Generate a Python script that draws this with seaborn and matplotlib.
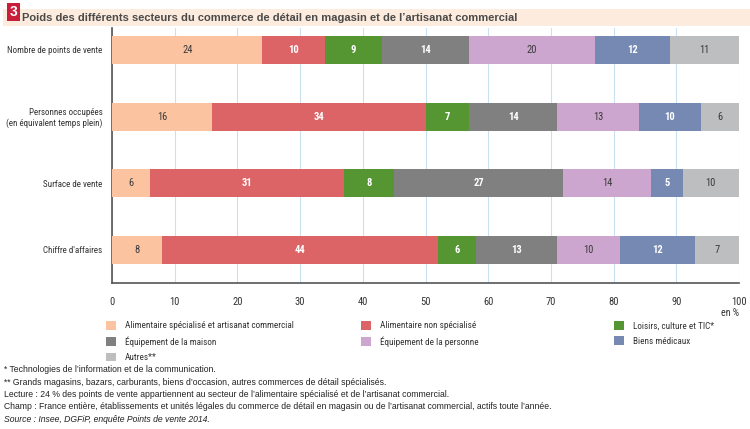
import numpy as np
import pandas as pd
import matplotlib
matplotlib.use("Agg")
import matplotlib.pyplot as plt
import seaborn as sns
from matplotlib.patches import Patch, Rectangle
from matplotlib import font_manager

rows = ["Nombre de points de vente",
        "Personnes occupées\n(en équivalent temps plein)",
        "Surface de vente",
        "Chiffre d'affaires"]
series = ["Alimentaire spécialisé et artisanat commercial",
          "Alimentaire non spécialisé",
          "Loisirs, culture et TIC*",
          "Équipement de la maison",
          "Équipement de la personne",
          "Biens médicaux",
          "Autres**"]
alim_spe = [24, 16, 6, 8]
alim_non_spe = [10, 34, 31, 44]
loisirs = [9, 7, 8, 6]
equip_maison = [14, 14, 27, 13]
equip_perso = [20, 13, 14, 10]
biens_med = [12, 10, 5, 12]
autres = [11, 6, 10, 7]
xticks = [0, 10, 20, 30, 40, 50, 60, 70, 80, 90, 100]

colors = ["#FBC3A0", "#DC6466", "#559632", "#808080", "#CDA6CF", "#7589B3", "#BDBEC0"]
txtcol = ["#3a3a3a", "white", "white", "white", "#3a3a3a", "white", "#3a3a3a"]

sns.set_theme(style="white")

# look for a condensed / narrow sans font
cands = []
for f in font_manager.fontManager.ttflist:
    st = str(f.stretch).lower()
    nm = f.name.lower()
    if ("condensed" in st or "narrow" in nm or "condensed" in nm) and f.style == "normal":
        cands.append(f.name)
pref = ["Liberation Sans Narrow", "Roboto Condensed", "Open Sans Condensed",
        "Noto Sans", "DejaVu Sans", "Roboto", "Open Sans"]
narrow = None
for p in pref:
    if p in cands:
        narrow = p
        break
if narrow is None and cands:
    narrow = sorted(cands)[0]
have_narrow = narrow is not None
if not have_narrow:
    narrow = "Liberation Sans"
plt.rcParams["font.family"] = [narrow, "DejaVu Sans"]
plt.rcParams["font.stretch"] = "condensed" if have_narrow else "normal"
scale = 1.0 if have_narrow else 0.88

vals = np.array([alim_spe, alim_non_spe, loisirs, equip_maison, equip_perso, biens_med, autres], dtype=float)
cum = np.cumsum(vals, axis=0)

fig = plt.figure(figsize=(7.5, 4.29), dpi=100)
W, H = 750, 429
ax = fig.add_axes([112 / W, 1 - 283 / H, (739 - 112) / W, (283 - 28) / H])

for i in range(len(series) - 1, -1, -1):
    df = pd.DataFrame({"row": rows, "val": cum[i]})
    sns.barplot(data=df, x="val", y="row", orient="h", color=colors[i],
                saturation=1, width=0.42, ax=ax, linewidth=0, zorder=3)

for i in range(len(series)):
    for j in range(len(rows)):
        c = cum[i, j] - vals[i, j] / 2
        if cum[i, j] > 100:
            c = (cum[i, j] - vals[i, j] + 100) / 2
        white = txtcol[i] == "white"
        ax.text(c, j, f"{int(vals[i, j])}", ha="center", va="center",
                color=txtcol[i], fontsize=7.6 * scale, fontweight="bold" if white else "normal", zorder=5)

ax.set_xlim(0, 100)
ax.set_ylim(3.5, -0.33)
ax.set_xticks(xticks)
ax.set_xticklabels([str(t) for t in xticks], fontsize=7.6 * scale, color="#333333")
ax.tick_params(axis="x", length=0, pad=10)
ax.tick_params(axis="y", length=0, pad=7, labelsize=6.5 * scale, labelcolor="#333333")
ax.set_xlabel("")
ax.set_ylabel("")
ax.grid(axis="x", color="#C8E0F0", linewidth=0.8, zorder=0)
ax.set_axisbelow(True)
for s in ["top", "right"]:
    ax.spines[s].set_visible(False)
ax.spines["left"].set_color("#555555")
ax.spines["bottom"].set_color("#555555")
ax.spines["left"].set_linewidth(1.2)
ax.spines["bottom"].set_linewidth(1.2)

fig.text(739 / W, 1 - 313 / H, "en %", ha="right", va="center", fontsize=7.2 * scale, color="#333333")

# title banner
fig.patches.append(Rectangle((3 / W, 1 - 26 / H), 747 / W, 17 / H, transform=fig.transFigure,
                             facecolor="#FDEBDD", edgecolor="none", zorder=0))
fig.patches.append(Rectangle((7 / W, 1 - 21 / H), 13 / W, 18 / H, transform=fig.transFigure,
                             facecolor="#C81E3C", edgecolor="none", zorder=1))
fig.text(13.5 / W, 1 - 12 / H, "3", ha="center", va="center", color="white",
         fontsize=10, fontweight="bold", family=["Liberation Sans", "DejaVu Sans"], fontstretch="normal")
fig.text(22 / W, 1 - 18 / H, "Poids des différents secteurs du commerce de détail en magasin et de l’artisanat commercial",
         ha="left", va="center", color="#4a4a4a", fontsize=8.05, fontweight="bold",
         family=["Liberation Sans", "DejaVu Sans"], fontstretch="normal")

# legend in three columns
handles = [Patch(facecolor=colors[i], edgecolor="none", label=series[i]) for i in range(len(series))]
cols = [[0, 3, 6], [1, 4], [2, 5]]
xs = [106, 361, 614]
for col, x in zip(cols, xs):
    fig.legend(handles=[handles[k] for k in col], loc="upper left",
               bbox_to_anchor=(x / W, 1 - 321 / H), frameon=False, fontsize=6.6 * scale,
               handlelength=1.05, handleheight=1.05, handletextpad=1.0,
               labelspacing=0.65, borderaxespad=0, borderpad=0, labelcolor="#333333")

notes = ["* Technologies de l’information et de la communication.",
         "** Grands magasins, bazars, carburants, biens d’occasion, autres commerces de détail spécialisés.",
         "Lecture : 24 % des points de vente appartiennent au secteur de l’alimentaire spécialisé et de l’artisanat commercial.",
         "Champ : France entière, établissements et unités légales du commerce de détail en magasin ou de l’artisanat commercial, actifs toute l’année.",
         "Source : Insee, DGFiP, enquête Points de vente 2014."]
for k, n in enumerate(notes):
    fig.text(4 / W, 1 - (370 + 12.3 * k) / H, n, ha="left", va="center", fontsize=6.2,
             color="#222222", style="italic" if k == 4 else "normal",
             family=["Liberation Sans", "DejaVu Sans"], fontstretch="normal")

fig.savefig("out.png", dpi=100)
